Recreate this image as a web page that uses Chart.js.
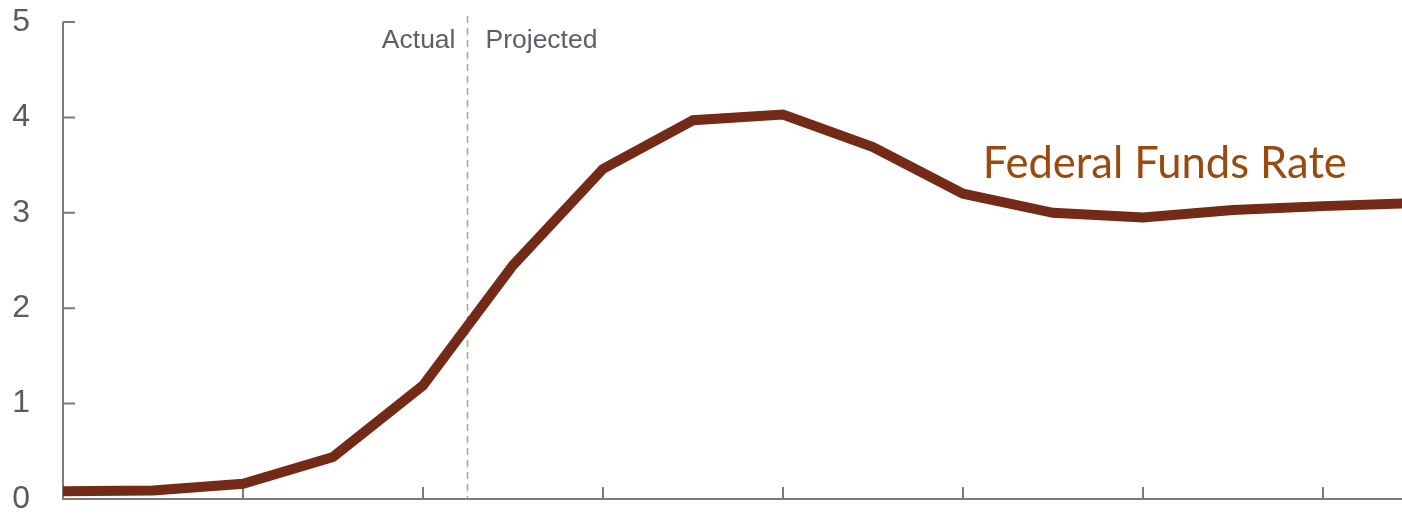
<!DOCTYPE html>
<html>
<head>
<meta charset="utf-8">
<script src="https://cdn.jsdelivr.net/npm/chart.js@4.4.1/dist/chart.umd.min.js"></script>
<style>
  html, body { margin: 0; padding: 0; background: #ffffff; overflow: hidden; }
  canvas { display: block; }
</style>
</head>
<body>
<canvas id="chart" width="1402" height="515"></canvas>
<script>
// Half-year steps along the horizontal axis (unlabelled in the figure)
const periods = [0, 1, 2, 3, 4, 5, 6, 7, 8, 9, 10, 11, 12, 13, 14, 15];
// Federal funds rate, percent
const fedFundsRate = [0.08, 0.09, 0.16, 0.44, 1.19, 2.45, 3.46, 3.97, 4.03, 3.69, 3.20, 3.00, 2.95, 3.03, 3.07, 3.10];
// Y-axis tick values
const yTicks = [0, 1, 2, 3, 4, 5];
// X-axis tick marks (every second period)
const xTicks = [0, 2, 4, 6, 8, 10, 12, 14];
// Boundary between actual and projected values
const actualEnd = 4.49;
// Series label anchor (period, percent)
const seriesLabelAt = { x: 10.22, y: 3.36 };

const AXIS_COLOR = '#7b7b7b';
const LINE_COLOR = '#732a17';
const TEXT_COLOR = '#5e5e66';

const axesPlugin = {
  id: 'axesAndTicks',
  beforeDatasetsDraw(chart) {
    const { ctx, chartArea: a, scales: { x, y } } = chart;
    ctx.save();
    ctx.strokeStyle = AXIS_COLOR;
    ctx.lineWidth = 2;
    // axis lines
    ctx.beginPath();
    ctx.moveTo(a.left, y.getPixelForValue(5));
    ctx.lineTo(a.left, a.bottom);
    ctx.lineTo(a.right, a.bottom);
    ctx.stroke();
    // inward tick marks
    ctx.beginPath();
    yTicks.forEach(v => {
      const py = y.getPixelForValue(v);
      ctx.moveTo(a.left, py);
      ctx.lineTo(a.left + 12, py);
    });
    xTicks.forEach(v => {
      const px = x.getPixelForValue(v);
      ctx.moveTo(px, a.bottom);
      ctx.lineTo(px, a.bottom - 12);
    });
    ctx.stroke();
    // actual / projected divider
    const dx = Math.round(x.getPixelForValue(actualEnd)) + 0.5;
    ctx.strokeStyle = '#a3a3a3';
    ctx.lineWidth = 1.5;
    ctx.setLineDash([7, 5]);
    ctx.beginPath();
    ctx.moveTo(dx, a.top - 6);
    ctx.lineTo(dx, a.bottom);
    ctx.stroke();
    ctx.setLineDash([]);
    ctx.font = '26.5px "Liberation Sans", Arial, sans-serif';
    ctx.fillStyle = TEXT_COLOR;
    ctx.textBaseline = 'alphabetic';
    ctx.textAlign = 'right';
    ctx.fillText('Actual', dx - 12, 48);
    ctx.textAlign = 'left';
    ctx.fillText('Projected', dx + 18, 48);
    ctx.restore();
  },
  afterDatasetsDraw(chart) {
    const { ctx, scales: { x, y } } = chart;
    ctx.save();
    ctx.font = '43.5px Lato, "Open Sans", sans-serif';
    ctx.fillStyle = '#9b4a0e';
    ctx.textAlign = 'left';
    ctx.textBaseline = 'alphabetic';
    ctx.fillText('Federal Funds Rate', x.getPixelForValue(seriesLabelAt.x), y.getPixelForValue(seriesLabelAt.y));
    ctx.restore();
  }
};

new Chart(document.getElementById('chart'), {
  type: 'line',
  data: {
    datasets: [{
      label: 'Federal Funds Rate',
      data: periods.map((p, i) => ({ x: p, y: fedFundsRate[i] })),
      borderColor: LINE_COLOR,
      borderWidth: 10,
      borderCapStyle: 'square',
      borderJoinStyle: 'miter',
      pointRadius: 0,
      tension: 0,
      fill: false
    }]
  },
  options: {
    responsive: false,
    animation: false,
    devicePixelRatio: 1,
    layout: { padding: { top: 22, bottom: 16, left: 0, right: 0 } },
    plugins: { legend: { display: false }, tooltip: { enabled: false } },
    scales: {
      x: {
        type: 'linear',
        display: false,
        min: 0,
        max: 14.878
      },
      y: {
        min: 0,
        max: 5,
        afterFit(scale) {
          scale.width = 63;
          scale.paddingTop = 0;
          scale.paddingBottom = 0;
        },
        border: { display: false },
        grid: { display: false, drawTicks: false },
        ticks: {
          stepSize: 1,
          padding: 33,
          color: '#5a5a62',
          font: { family: '"Liberation Sans", Arial, sans-serif', size: 32, lineHeight: 1 }
        }
      }
    }
  },
  plugins: [axesPlugin]
});
</script>
</body>
</html>
